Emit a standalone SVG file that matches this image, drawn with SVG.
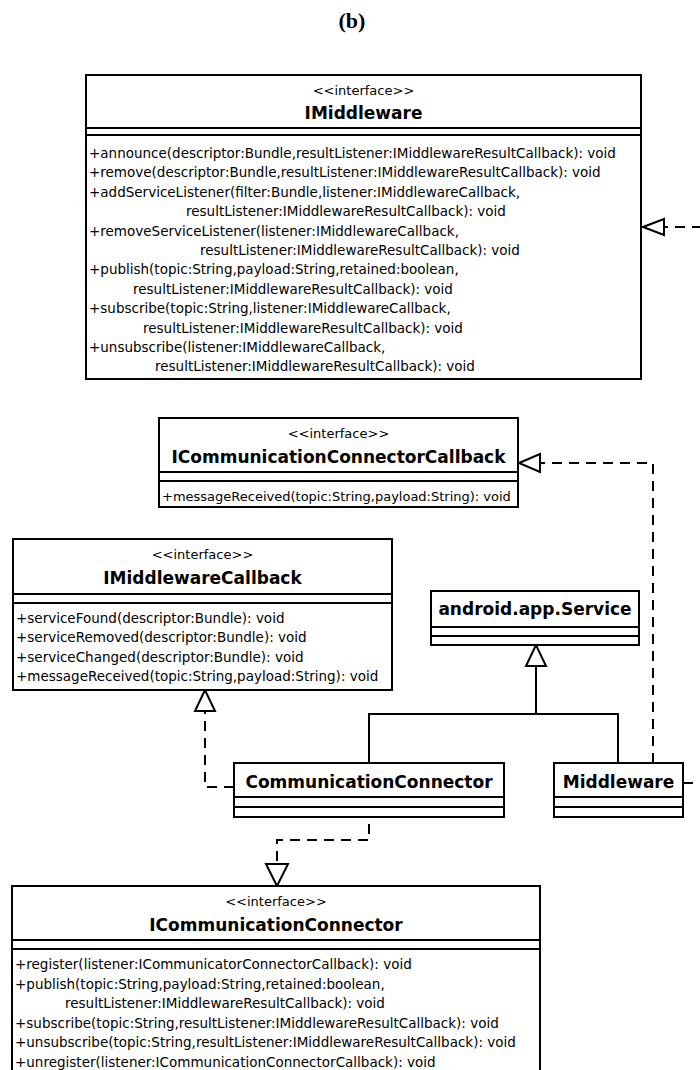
<svg xmlns="http://www.w3.org/2000/svg" width="700" height="1070" viewBox="0 0 700 1070">
<style>
.box{fill:#fff;stroke:#000;stroke-width:2}
.sep{stroke:#000;stroke-width:2}
.st{font-family:"DejaVu Sans",sans-serif;font-size:13px;text-anchor:middle}
.nm{font-family:"DejaVu Sans",sans-serif;font-size:17px;font-weight:bold;text-anchor:middle}
.m{font-family:"DejaVu Sans",sans-serif;font-size:13.5px}
.dash{fill:none;stroke:#000;stroke-width:2;stroke-dasharray:10 7}
.solid{fill:none;stroke:#000;stroke-width:2}
.tri{fill:#fff;stroke:#000;stroke-width:2;stroke-linejoin:miter}
</style>
<rect width="700" height="1070" fill="#fff"/>
<text x="352" y="28" font-family="Liberation Serif" font-weight="bold" font-size="22" text-anchor="middle">(b)</text>

<g id="connectors">
  <path class="dash" d="M683,783 H712 V227 H664"/>
  <polygon class="tri" points="643,227 664,219 664,235"/>
  <path class="dash" d="M653,763 V463 H540"/>
  <polygon class="tri" points="519,463 540,454 540,472"/>
  <path class="solid" d="M369,763 V714 H618 V763"/>
  <path class="solid" d="M536,714 V666"/>
  <polygon class="tri" points="536,645 526,666 546,666"/>
  <path class="dash" d="M234,787 H205 V711"/>
  <polygon class="tri" points="205,690 195,711 215,711"/>
  <path class="dash" style="stroke-dashoffset:10" d="M369,817 V840 H277 V864"/>
  <polygon class="tri" points="277,886 266,864 288,864"/>
</g>

<g id="IMiddleware">
  <rect class="box" x="86" y="75" width="555" height="304"/>
  <text class="st" x="363.5" y="95">&lt;&lt;interface&gt;&gt;</text>
  <text class="nm" x="363.5" y="119">IMiddleware</text>
  <line class="sep" x1="86" y1="128" x2="641" y2="128"/>
  <line class="sep" x1="86" y1="135" x2="641" y2="135"/>
  <text class="m" x="89" y="158">+announce(descriptor:Bundle,resultListener:IMiddlewareResultCallback): void</text>
  <text class="m" x="89" y="177.4">+remove(descriptor:Bundle,resultListener:IMiddlewareResultCallback): void</text>
  <text class="m" x="89" y="196.8">+addServiceListener(filter:Bundle,listener:IMiddlewareCallback,</text>
  <text class="m" x="186" y="216.2">resultListener:IMiddlewareResultCallback): void</text>
  <text class="m" x="89" y="235.6">+removeServiceListener(listener:IMiddlewareCallback,</text>
  <text class="m" x="200" y="255">resultListener:IMiddlewareResultCallback): void</text>
  <text class="m" x="89" y="274.4">+publish(topic:String,payload:String,retained:boolean,</text>
  <text class="m" x="133" y="293.8">resultListener:IMiddlewareResultCallback): void</text>
  <text class="m" x="89" y="313.2">+subscribe(topic:String,listener:IMiddlewareCallback,</text>
  <text class="m" x="143" y="332.6">resultListener:IMiddlewareResultCallback): void</text>
  <text class="m" x="89" y="352">+unsubscribe(listener:IMiddlewareCallback,</text>
  <text class="m" x="155" y="371.4">resultListener:IMiddlewareResultCallback): void</text>
</g>

<g id="ICommunicationConnectorCallback">
  <rect class="box" x="159" y="418" width="359" height="89"/>
  <text class="st" x="338.5" y="437.5">&lt;&lt;interface&gt;&gt;</text>
  <text class="nm" x="338.5" y="463">ICommunicationConnectorCallback</text>
  <line class="sep" x1="159" y1="472" x2="518" y2="472"/>
  <line class="sep" x1="159" y1="481" x2="518" y2="481"/>
  <text class="m" x="162" y="501" style="font-size:13px">+messageReceived(topic:String,payload:String): void</text>
</g>

<g id="IMiddlewareCallback">
  <rect class="box" x="13" y="539" width="379" height="151"/>
  <text class="st" x="202.5" y="559">&lt;&lt;interface&gt;&gt;</text>
  <text class="nm" x="202.5" y="584">IMiddlewareCallback</text>
  <line class="sep" x1="13" y1="594" x2="392" y2="594"/>
  <line class="sep" x1="13" y1="603" x2="392" y2="603"/>
  <text class="m" x="16" y="623">+serviceFound(descriptor:Bundle): void</text>
  <text class="m" x="16" y="642.4">+serviceRemoved(descriptor:Bundle): void</text>
  <text class="m" x="16" y="661.8">+serviceChanged(descriptor:Bundle): void</text>
  <text class="m" x="16" y="681.2">+messageReceived(topic:String,payload:String): void</text>
</g>

<g id="android.app.Service">
  <rect class="box" x="431" y="591" width="208" height="54"/>
  <text class="nm" x="535" y="615">android.app.Service</text>
  <line class="sep" x1="431" y1="627" x2="639" y2="627"/>
  <line class="sep" x1="431" y1="636" x2="639" y2="636"/>
</g>

<g id="CommunicationConnector">
  <rect class="box" x="234" y="763" width="270" height="54"/>
  <text class="nm" x="369" y="788">CommunicationConnector</text>
  <line class="sep" x1="234" y1="797" x2="504" y2="797"/>
  <line class="sep" x1="234" y1="807" x2="504" y2="807"/>
</g>

<g id="Middleware">
  <rect class="box" x="554" y="763" width="129" height="54"/>
  <text class="nm" x="618.5" y="788">Middleware</text>
  <line class="sep" x1="554" y1="797" x2="683" y2="797"/>
  <line class="sep" x1="554" y1="807" x2="683" y2="807"/>
</g>

<g id="ICommunicationConnector">
  <rect class="box" x="12" y="886" width="528" height="200"/>
  <text class="st" x="276" y="905.5">&lt;&lt;interface&gt;&gt;</text>
  <text class="nm" x="276" y="931">ICommunicationConnector</text>
  <line class="sep" x1="12" y1="940" x2="540" y2="940"/>
  <line class="sep" x1="12" y1="949" x2="540" y2="949"/>
  <text class="m" x="15" y="969">+register(listener:ICommunicatorConnectorCallback): void</text>
  <text class="m" x="15" y="988.5">+publish(topic:String,payload:String,retained:boolean,</text>
  <text class="m" x="65" y="1008">resultListener:IMiddlewareResultCallback): void</text>
  <text class="m" x="15" y="1027.5">+subscribe(topic:String,resultListener:IMiddlewareResultCallback): void</text>
  <text class="m" x="15" y="1047">+unsubscribe(topic:String,resultListener:IMiddlewareResultCallback): void</text>
  <text class="m" x="15" y="1066.5">+unregister(listener:ICommunicationConnectorCallback): void</text>
</g>
</svg>
